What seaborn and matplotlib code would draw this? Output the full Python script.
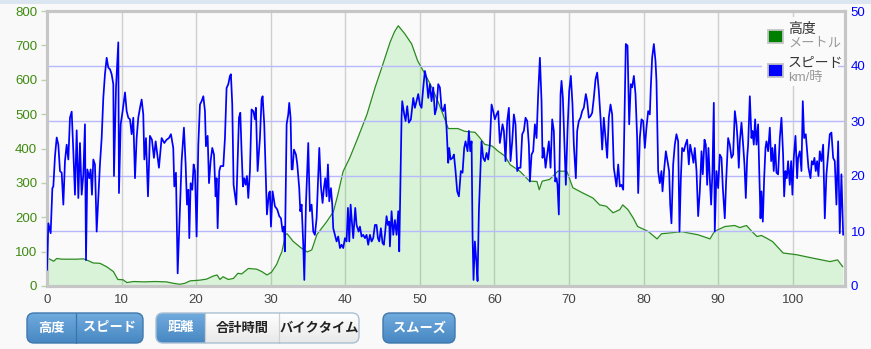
import numpy as np
import pandas as pd
import matplotlib
matplotlib.use("Agg")
import matplotlib.pyplot as plt
import seaborn as sns
from matplotlib.patches import FancyBboxPatch, Rectangle

# ---------------- data ----------------
x_ticks = [0, 10, 20, 30, 40, 50, 60, 70, 80, 90, 100]
elev_ticks = [0, 100, 200, 300, 400, 500, 600, 700, 800]
speed_ticks = [0, 10, 20, 30, 40, 50]

elev_km = [0, 0.2, 0.9, 1.3, 2.0, 3.0, 4.0, 4.9, 5.5, 6.2,
           7.1, 8.0, 8.9, 9.5, 10.2, 10.7, 11.6, 13.0, 14.5, 16.0,
           16.9, 17.8, 18.5, 19.2, 20.5, 21.4, 22.3, 22.8, 23.2, 23.6,
           24.3, 25.0, 25.6, 26.1, 27.0, 28.1, 28.8, 29.5, 30.1, 30.8,
           31.2, 31.5, 32.0, 32.2, 33.0, 34.0, 34.9, 35.5, 36.2, 37.5,
           38.4, 39.0, 39.7, 40.6, 41.7, 42.9, 44.0, 44.9, 46.0, 46.6,
           47.1, 48.0, 48.9, 49.7, 50.7, 51.6, 52.4, 53.1, 53.8, 55.1,
           56.0, 57.4, 58.0, 58.7, 59.7, 60.5, 61.4, 62.1, 63.4, 64.7,
           65.7, 66.0, 66.4, 67.4, 68.5, 69.7, 70.5, 71.8, 73.2, 74.1,
           75.0, 75.9, 76.8, 77.2, 77.9, 78.6, 79.2, 80.6, 81.8, 82.4,
           83.8, 85.1, 87.3, 88.9, 89.5, 90.9, 92.2, 92.9, 93.8, 94.5,
           95.2, 95.8, 96.5, 97.3, 98.7, 100.5, 102.7, 105.0, 106.0, 106.7]
elev_m = [70, 80, 72, 80, 78, 78, 78, 79, 74, 67,
          66, 56, 42, 19, 18, 10, 13, 12, 13, 12,
          8, 5, 8, 15, 17, 20, 29, 32, 19, 27,
          19, 22, 37, 35, 51, 49, 42, 32, 40, 63,
          85, 100, 150, 152, 130, 112, 99, 105, 150, 187,
          216, 266, 333, 373, 432, 499, 578, 636, 709, 740,
          757, 733, 704, 655, 616, 578, 538, 499, 458, 458,
          450, 447, 432, 412, 407, 392, 378, 353, 334, 305,
          304, 280, 305, 310, 334, 334, 286, 271, 256, 236,
          232, 213, 222, 236, 222, 198, 173, 159, 137, 152,
          155, 158, 149, 137, 159, 173, 176, 170, 176, 159,
          144, 147, 139, 129, 96, 91, 81, 71, 76, 56]

speed_km_a = [0.0, 0.18, 0.49, 0.72, 0.85, 1.07, 1.30, 1.52, 1.74, 1.97,
              2.19, 2.41, 2.64, 2.86, 3.08, 3.31, 3.53, 3.75, 3.98, 4.20,
              4.42, 4.65, 4.87, 5.09, 5.23, 5.41, 5.67, 5.85, 6.03, 6.21,
              6.43, 6.66, 6.88, 7.10, 7.33, 7.55, 7.77, 8.00, 8.22, 8.45,
              8.67, 8.89, 8.98, 9.25, 9.56, 9.65, 9.88, 10.14, 10.46, 10.68,
              10.90, 11.13, 11.35, 11.57, 11.80, 12.02, 12.24, 12.47, 12.69, 12.91,
              13.05, 13.27, 13.54, 13.80, 14.07, 14.34, 14.57]
speed_a = [2.9, 11.4, 9.6, 17.8, 18.1, 23.6, 27.0, 25.7, 20.9, 20.6,
           14.8, 22.7, 25.7, 23.0, 30.6, 31.7, 24.5, 16.6, 28.3, 16.0,
           26.0, 16.6, 20.3, 29.4, 4.7, 21.2, 19.6, 21.2, 16.6, 23.0,
           22.1, 9.9, 16.0, 22.1, 26.9, 34.2, 38.5, 41.5, 39.7, 39.4,
           38.5, 36.7, 20.0, 36.0, 44.3, 16.9, 29.4, 31.8, 35.2, 31.8,
           30.6, 30.3, 27.6, 30.6, 19.6, 26.9, 30.6, 32.4, 33.9, 31.2,
           23.0, 26.9, 16.3, 27.3, 26.6, 23.3, 26.3]

speed_km_b = [15.01, 15.37, 15.73, 16.04, 16.35, 16.62, 16.93, 17.07, 17.29, 17.52,
              17.78, 18.05, 18.36, 18.59, 18.77, 18.95, 19.08, 19.26, 19.48, 19.66,
              19.84, 20.06, 20.29, 20.51, 20.73, 20.96, 21.18, 21.31, 21.54, 21.72,
              21.94, 22.16, 22.39, 22.61, 22.74, 22.88, 23.10, 23.28, 23.64, 23.86,
              24.08, 24.31, 24.53, 24.66, 24.84, 25.02, 25.20, 25.38, 25.56, 25.74,
              25.92, 26.09, 26.27, 26.45, 26.63, 26.81, 26.99, 27.21, 27.43, 27.66,
              27.88, 28.01, 28.24, 28.55, 28.77, 28.91, 29.13, 29.31, 29.49, 29.76]
speed_b = [21.5, 26.9, 26.0, 26.6, 26.9, 27.6, 25.1, 18.1, 20.6, 2.3,
           12.3, 22.7, 28.8, 22.1, 14.8, 17.5, 8.7, 18.7, 17.5, 22.1,
           20.9, 9.0, 25.7, 33.0, 33.6, 34.5, 31.8, 25.4, 27.3, 18.7,
           22.7, 25.1, 23.9, 16.3, 19.6, 10.5, 20.9, 21.8, 21.8, 26.9,
           36.0, 36.7, 38.2, 38.5, 33.0, 18.4, 16.6, 14.8, 22.7, 30.6,
           31.5, 24.5, 18.1, 19.6, 18.4, 20.0, 16.0, 20.9, 32.1, 31.8,
           30.3, 32.4, 20.9, 26.9, 33.9, 34.5, 29.4, 21.5, 13.0, 16.9]

speed_km_c = [29.89, 30.03, 30.25, 30.56, 30.88, 31.14, 31.37, 31.59, 31.77, 31.90,
              32.13, 32.35, 32.48, 32.66, 32.80, 32.93, 33.11, 33.38, 33.56, 33.82,
              33.96, 34.14, 34.36, 34.50, 34.72, 35.03, 35.25, 35.48, 35.70, 35.92,
              36.15, 36.51, 36.73, 36.95, 37.13, 37.31, 37.49, 37.67, 37.85, 38.07,
              38.25, 38.38, 38.61, 38.83, 39.05, 39.28, 39.50, 39.72, 39.95, 40.17,
              40.35, 40.53, 40.71, 40.88, 41.06, 41.33, 41.51, 41.78, 41.96, 42.18,
              42.40, 42.63, 42.85, 43.07, 43.30, 43.52, 43.74, 43.97, 44.19, 44.37,
              44.55, 44.77, 44.99, 45.17, 45.35, 45.53, 45.71, 45.89]
speed_c = [17.2, 10.8, 17.2, 14.5, 13.9, 12.7, 12.3, 9.9, 10.8, 6.3,
           29.4, 31.2, 33.3, 30.6, 21.2, 21.2, 24.8, 23.9, 22.1, 17.8,
           13.6, 14.8, 7.5, 1.1, 14.8, 26.0, 13.6, 14.8, 9.9, 9.3,
           12.3, 25.1, 18.1, 15.1, 17.8, 19.6, 16.3, 22.1, 15.4, 17.8,
           14.8, 10.5, 9.3, 8.1, 9.0, 6.9, 7.5, 6.9, 8.7, 8.1,
           14.2, 8.1, 14.8, 11.7, 8.7, 14.2, 11.1, 9.9, 10.8, 9.0,
           9.3, 8.7, 9.3, 7.5, 9.3, 8.1, 8.7, 11.1, 11.1, 8.7,
           8.1, 10.5, 7.8, 7.5, 9.9, 12.7, 11.1, 11.7]

speed_km_d = [45.98, 46.20, 46.43, 46.65, 46.87, 47.10, 47.23, 47.54, 47.63, 47.90,
              48.08, 48.30, 48.52, 48.79, 49.11, 49.33, 49.55, 49.78, 50.00, 50.22,
              50.45, 50.67, 50.89, 51.12, 51.34, 51.56, 51.79, 52.01, 52.23, 52.46,
              52.68, 52.90, 53.13, 53.35, 53.57, 53.80, 53.93, 54.11, 54.38, 54.56,
              54.78, 55.00, 55.23, 55.49, 55.72, 55.94, 56.12, 56.39, 56.57, 56.75,
              56.93, 57.06, 57.19, 57.37, 57.59, 57.73, 57.91, 58.09, 58.26, 58.49,
              58.71, 58.94, 59.16, 59.38, 59.61, 59.83, 60.05, 60.28, 60.50, 60.72]
speed_d = [7.2, 13.6, 9.3, 12.0, 9.3, 13.6, 6.3, 30.6, 33.6, 31.2,
           30.0, 32.7, 29.7, 30.3, 34.2, 32.4, 33.6, 34.9, 33.0, 32.4,
           36.1, 39.1, 37.6, 34.2, 36.7, 33.6, 36.1, 31.2, 32.4, 36.7,
           36.1, 32.4, 31.8, 33.0, 28.8, 22.4, 25.1, 23.0, 23.3, 23.9,
           20.9, 17.2, 16.3, 20.9, 20.6, 25.1, 26.3, 24.5, 28.2, 24.5,
           26.3, 9.3, 1.1, 8.1, 4.1, 0.9, 13.6, 20.3, 26.3, 23.3,
           22.7, 24.2, 23.0, 25.7, 33.0, 31.8, 30.3, 31.2, 31.8, 26.0]

speed_km_e = [61.08, 61.26, 61.48, 61.71, 61.93, 62.15, 62.38, 62.60, 62.82, 63.05,
              63.27, 63.49, 63.72, 63.94, 64.16, 64.39, 64.61, 64.75, 64.97, 65.19,
              65.42, 65.64, 65.86, 66.09, 66.31, 66.44, 66.62, 66.85, 67.07, 67.29,
              67.52, 67.74, 67.96, 68.14, 68.32, 68.45, 68.63, 68.86, 68.99, 69.17,
              69.44, 69.57, 69.79, 70.02, 70.24, 70.46, 70.64, 70.91, 71.09, 71.31,
              71.54, 71.76, 71.98, 72.25, 72.43, 72.65, 72.88, 73.10, 73.32, 73.55,
              73.77, 73.99, 74.22, 74.44, 74.66, 74.89, 75.11, 75.33, 75.56, 75.78,
              76.00]
speed_e = [29.4, 28.2, 22.7, 30.0, 32.4, 22.7, 26.3, 31.2, 29.4, 20.9,
           21.5, 21.5, 27.6, 28.2, 30.6, 30.0, 25.7, 19.0, 23.9, 24.5,
           29.4, 26.9, 34.9, 41.5, 33.6, 23.3, 25.1, 21.5, 23.9, 26.3,
           21.5, 30.3, 28.2, 19.0, 19.6, 18.4, 13.0, 34.9, 37.3, 34.2,
           23.3, 18.4, 28.2, 35.5, 38.2, 33.0, 25.7, 19.6, 28.2, 30.0,
           30.6, 31.8, 32.4, 34.9, 33.6, 30.6, 30.9, 31.5, 34.2, 37.6,
           38.8, 35.5, 30.6, 24.8, 30.6, 26.9, 23.3, 30.6, 33.0, 31.2,
           21.5]

speed_km_f = [76.36, 76.59, 76.81, 77.03, 77.26, 77.48, 77.61, 77.84, 78.06, 78.28,
              78.46, 78.69, 78.91, 79.13, 79.27, 79.49, 79.71, 79.94, 80.16, 80.38,
              80.61, 80.83, 80.96, 81.14, 81.37, 81.59, 81.72, 81.95, 82.17, 82.39,
              82.53, 82.75, 82.98, 83.20, 83.42, 83.56, 83.73, 83.96, 84.18, 84.40,
              84.63, 84.81, 84.99, 85.16, 85.39, 85.61, 85.83, 86.06, 86.24, 86.50,
              86.68, 86.86, 87.09, 87.31, 87.53, 87.76, 87.93, 88.16, 88.34, 88.52,
              88.69, 88.87, 89.05, 89.23, 89.41, 89.54, 89.77, 89.99, 90.21, 90.44,
              90.62, 90.88, 91.06, 91.33, 91.55, 91.78, 92.00]
speed_f = [18.1, 22.1, 18.1, 18.4, 17.5, 33.6, 44.0, 43.7, 29.4, 36.7,
           36.1, 38.2, 34.9, 26.9, 16.9, 26.9, 30.3, 30.0, 25.1, 28.8,
           31.8, 31.2, 36.1, 41.5, 44.0, 40.9, 37.3, 20.9, 18.7, 20.9,
           17.2, 21.2, 24.5, 22.7, 20.9, 14.8, 11.4, 22.1, 25.7, 27.6,
           26.3, 9.9, 19.6, 25.1, 24.5, 25.7, 26.6, 22.1, 25.7, 23.9,
           22.4, 25.1, 20.9, 12.7, 17.2, 24.5, 20.3, 26.6, 25.7, 18.4,
           25.1, 19.6, 14.8, 20.9, 33.3, 9.9, 20.9, 17.8, 23.9, 23.3,
           17.8, 12.3, 19.0, 26.9, 25.7, 23.3, 23.9]

speed_km_g = [92.23, 92.45, 92.58, 92.76, 92.90, 93.12, 93.34, 93.52, 93.70, 93.88,
              94.01, 94.24, 94.46, 94.59, 94.77, 94.95, 95.13, 95.35, 95.49, 95.67,
              95.80, 95.98, 96.16, 96.34, 96.47, 96.69, 96.92, 97.10, 97.27, 97.45,
              97.63, 97.81, 98.03, 98.26, 98.48, 98.70, 98.84, 99.02, 99.20, 99.37,
              99.60, 99.78, 99.95, 100.13, 100.36, 100.58, 100.71, 100.94, 101.16, 101.34,
              101.52, 101.74, 101.92, 102.10, 102.37, 102.55, 102.73, 102.90, 103.08, 103.26,
              103.44, 103.62, 103.84, 104.07, 104.29, 104.51, 104.74, 104.96, 105.18, 105.41,
              105.63, 105.85, 106.08, 106.30, 106.52, 106.75]
speed_g = [31.8, 29.4, 26.9, 21.5, 26.3, 29.7, 25.7, 22.1, 16.0, 23.3,
           25.7, 34.5, 26.9, 28.2, 25.7, 30.3, 25.7, 29.4, 21.5, 12.3,
           17.2, 11.7, 19.6, 25.1, 26.3, 24.5, 28.8, 22.7, 25.1, 20.9,
           25.7, 20.6, 20.3, 26.9, 30.6, 23.9, 16.3, 20.9, 19.6, 22.7,
           18.4, 22.7, 16.6, 23.3, 27.3, 19.6, 23.3, 24.5, 20.9, 33.6,
           26.9, 27.6, 24.5, 21.5, 19.6, 22.7, 22.1, 23.3, 20.9, 22.7,
           20.0, 24.5, 22.7, 25.7, 12.3, 20.3, 23.9, 27.6, 27.9, 23.3,
           22.7, 14.8, 26.3, 9.6, 20.3, 9.3]

legend_labels = ["高度", "スピード"]
legend_units = ["メートル", "km/時"]
button_groups = [["高度", "スピード"], ["距離", "合計時間", "バイクタイム"], ["スムーズ"]]

# ---------------- style ----------------
sns.set_theme(style="white")
plt.rcParams["font.family"] = ["Liberation Sans", "Noto Sans CJK JP", "DejaVu Sans"]

W, H = 871, 349
BG = "#f9f9f9"
fig = plt.figure(figsize=(W / 100, H / 100), dpi=100, facecolor=BG)

L, R, T, B = 47, 845, 11, 286
ax = fig.add_axes([L / W, 1 - B / H, (R - L) / W, (B - T) / H])
ax.set_facecolor("#fafafa")
ax2 = ax.twinx()

df_e = pd.DataFrame({"km": elev_km, "m": elev_m})
df_s = pd.DataFrame({
    "km": speed_km_a + speed_km_b + speed_km_c + speed_km_d + speed_km_e + speed_km_f + speed_km_g,
    "kmh": speed_a + speed_b + speed_c + speed_d + speed_e + speed_f + speed_g,
})

ax.fill_between(df_e["km"], df_e["m"], 0, color=(0.1, 0.8, 0.1, 0.15), lw=0, zorder=1)
sns.lineplot(data=df_e, x="km", y="m", ax=ax, color="#2a8a1e", lw=0.9,
             estimator=None, sort=False, zorder=3)
sns.lineplot(data=df_s, x="km", y="kmh", ax=ax2, color="#0000ff", lw=1.25,
             estimator=None, sort=False, zorder=3)

ax.set_xlim(0, 107)
ax.set_ylim(0, 800)
ax2.set_ylim(0, 50)
ax.set_xticks(x_ticks)
ax.set_yticks(elev_ticks)
ax2.set_yticks(speed_ticks)
for a in (ax, ax2):
    a.set_xlabel("")
    a.set_ylabel("")

ax.grid(axis="x", color="#cfcfcf", lw=1)
ax.grid(axis="y", visible=False)
ax2.grid(axis="y", color="#b8b8ff", lw=1)
ax2.grid(axis="x", visible=False)

ax.tick_params(axis="y", left=True, length=4, width=1, color="#b9d3b0",
               labelcolor="#3f8a10", labelsize=9.5, pad=3)
ax.tick_params(axis="x", bottom=False, length=0, labelcolor="#444444", labelsize=9.5, pad=5.5)
ax2.tick_params(axis="y", right=False, length=0, labelcolor="#0000ff", labelsize=9.5, pad=4)

for a in (ax, ax2):
    for s in a.spines.values():
        s.set_visible(True)
        s.set_color("#c6c6c6")
        s.set_linewidth(2.2)

# ---------------- overlay (pixel coordinates) ----------------
ov = fig.add_axes([0, 0, 1, 1])
ov.patch.set_alpha(0)
ov.axis("off")

ov.add_patch(Rectangle((0, 0), W, 4, color="#dbe6f1", lw=0))

# legend
ov.add_patch(Rectangle((762, 17), 76, 69, color="#fafafa", lw=0))
leg_colors = ["#008000", "#0000ff"]
leg_y = [29, 63]
for lab, unit, col, y in zip(legend_labels, legend_units, leg_colors, leg_y):
    ov.add_patch(Rectangle((768, y + 1), 15, 13, facecolor=col, edgecolor="#c4c4c4", lw=1.3))
    ov.text(788, y - 0.5, lab, fontsize=10, color="#333333", va="center", ha="left")
    ov.text(788, y + 14.5, unit, fontsize=9.5, color="#999999", va="center", ha="left")


def draw_group(x_edges, labels, selected, y0=313, y1=343):
    x0, x1 = x_edges[0], x_edges[-1]
    box = FancyBboxPatch((x0, y0), x1 - x0, y1 - y0,
                         boxstyle="round,pad=0,rounding_size=7",
                         facecolor="white", edgecolor="none", lw=0)
    ov.add_patch(box)
    ramp = np.linspace(0, 1, 32)[:, None]
    for i, lab in enumerate(labels):
        a, b = x_edges[i], x_edges[i + 1]
        if selected[i]:
            top, bot = np.array([0.44, 0.67, 0.87]), np.array([0.28, 0.53, 0.76])
        else:
            top, bot = np.array([1.0, 1.0, 1.0]), np.array([0.91, 0.91, 0.91])
        grad = top[None, None, :] * (1 - ramp[:, :, None]) + bot[None, None, :] * ramp[:, :, None]
        im = ov.imshow(grad, extent=(a, b, y1, y0), origin="upper", aspect="auto", zorder=2)
        im.set_clip_path(box)
        ov.text((a + b) / 2, (y0 + y1) / 2 + 0.5, lab, fontsize=9.5, fontweight="bold",
                color="white" if selected[i] else "#222222", ha="center", va="center", zorder=4)
        if i > 0:
            ov.plot([a, a], [y0, y1], color="#3b74a8" if (selected[i] and selected[i - 1]) else "#cfcfcf",
                    lw=0.9, zorder=3)
    edge = "#3f78ad" if all(selected) else "#a9bfd4"
    ov.add_patch(FancyBboxPatch((x0, y0), x1 - x0, y1 - y0,
                                boxstyle="round,pad=0,rounding_size=7",
                                facecolor="none", edgecolor=edge, lw=1.0, zorder=5))


draw_group([27, 76, 143], button_groups[0], [True, True])
draw_group([156, 205, 279, 359], button_groups[1], [True, False, False])
draw_group([383, 455], button_groups[2], [True])

ov.set_xlim(0, W)
ov.set_ylim(H, 0)

fig.savefig("out.png", dpi=100, facecolor=BG)
